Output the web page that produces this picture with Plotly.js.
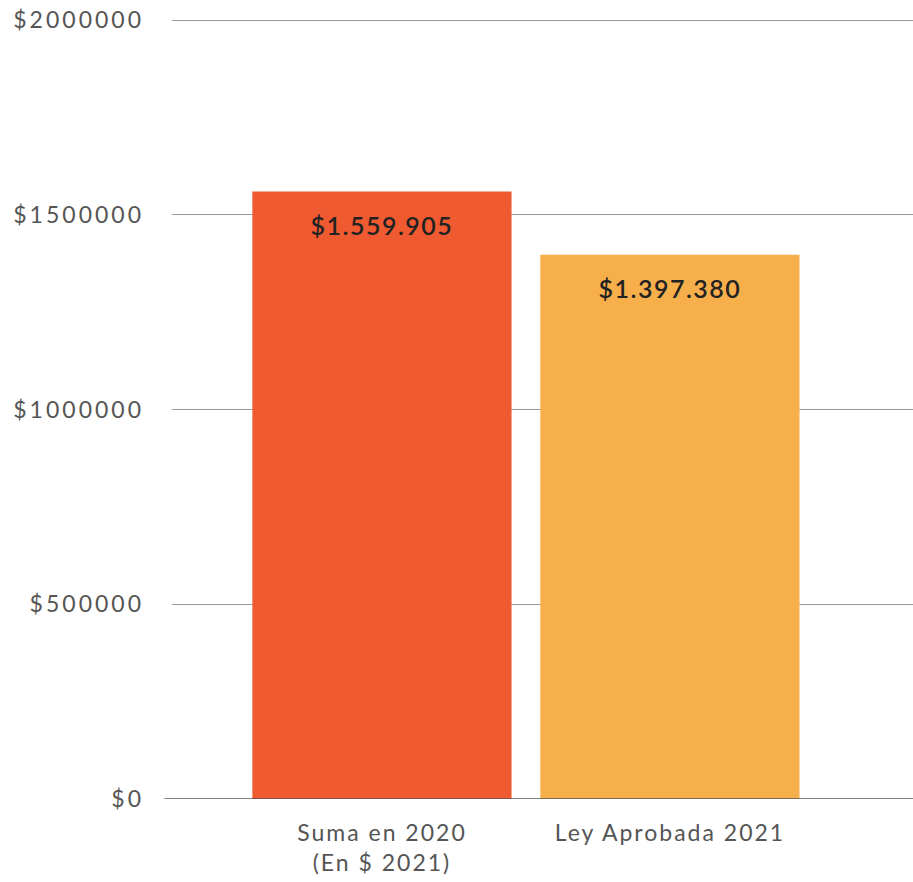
<!DOCTYPE html>
<html>
<head>
<meta charset="utf-8">
<script src="https://cdn.plot.ly/plotly-3.0.1.min.js"></script>
<style>
html,body{margin:0;padding:0;background:#fff;}
#chart{width:913px;height:882px;}
#chart .ytick text{letter-spacing:3px;}
#chart .xtick text{letter-spacing:2px;}
#chart .annotation-text{letter-spacing:1.5px;}
</style>
</head>
<body>
<div id="chart"></div>
<script>
const categories = ["Suma en 2020<br>(En $ 2021)", "Ley Aprobada 2021"];
const values = [1559905, 1397380];
const valueLabels = ["$1.559.905", "$1.397.380"];
const barColors = ["#F05A30", "#F7AF4C"];
const tickValues = [0, 500000, 1000000, 1500000, 2000000];
const tickLabels = ["$0", "$500000", "$1000000", "$1500000", "$2000000"];

const trace = {
  type: "bar",
  x: categories,
  y: values,
  marker: {color: barColors},
  width: 0.9,
  hoverinfo: "none"
};

const annotations = categories.map((c, i) => ({
  x: c, y: values[i], xref: "x", yref: "y",
  text: valueLabels[i], showarrow: false,
  yanchor: "middle", yshift: -33,
  font: {family: "Lato, sans-serif", size: 25, color: "#222222", weight: 600}
}));

const layout = {
  width: 913, height: 882,
  margin: {l: 172, r: 0, t: 19, b: 83},
  paper_bgcolor: "#ffffff", plot_bgcolor: "#ffffff",
  showlegend: false,
  font: {family: "Lato, sans-serif", color: "#555555"},
  xaxis: {
    type: "category",
    range: [-0.729, 1.844],
    showgrid: false, zeroline: false, showline: false, ticks: "",
    ticklabelstandoff: 18,
    tickfont: {size: 23, color: "#555555"}
  },
  yaxis: {
    range: [0, 2003000],
    tickvals: tickValues, ticktext: tickLabels,
    showgrid: true, gridcolor: "#9a9a9a", gridwidth: 1,
    zeroline: false, showline: false, ticks: "",
    ticklabelstandoff: 27,
    tickfont: {size: 23, color: "#555555"}
  },
  shapes: [{
    type: "line", xref: "paper", yref: "y",
    x0: -0.01, x1: 1, y0: 0, y1: 0,
    line: {color: "#555555", width: 1.5}
  }],
  annotations: annotations
};

Plotly.newPlot("chart", [trace], layout, {displayModeBar: false, staticPlot: true});
</script>
</body>
</html>
